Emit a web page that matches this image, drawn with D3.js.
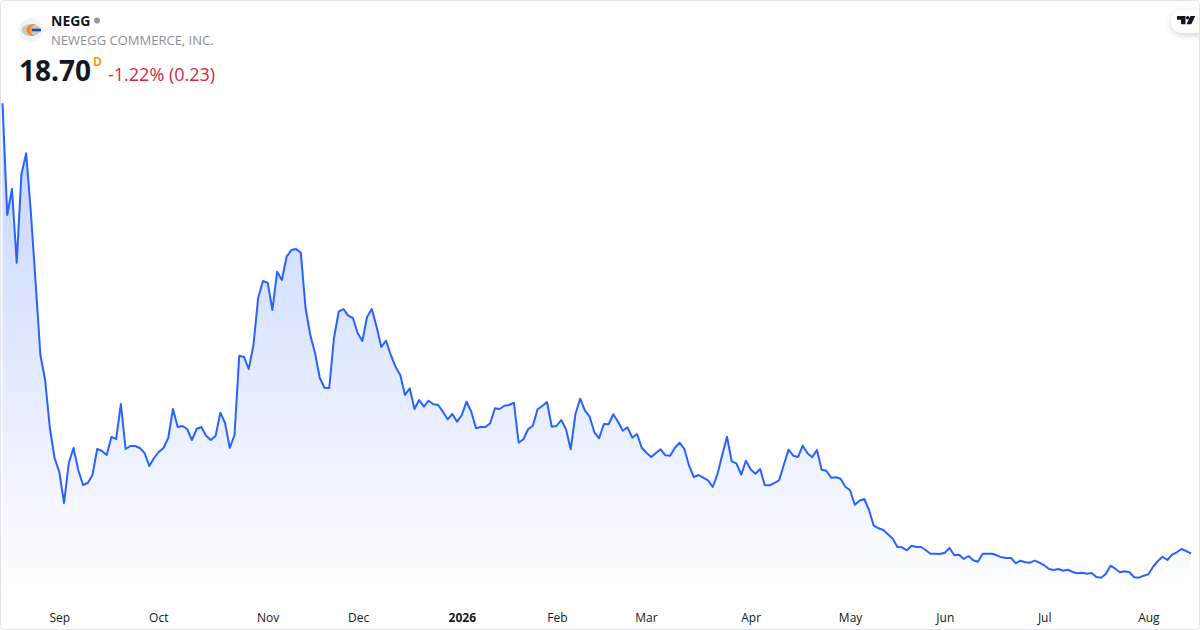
<!DOCTYPE html>
<html lang="en">
<head>
<meta charset="UTF-8">
<title>NEGG</title>
<script src="https://d3js.org/d3.v7.min.js"></script>
<style>
  html, body { margin: 0; padding: 0; background: #fff; }
  svg { display: block; }
  text { font-family: "Open Sans", sans-serif; }
  .tick text { font-size: 12px; fill: #131722; }
</style>
</head>
<body>
<div id="chart"></div>
<script>
// daily closes
const closes = [
  63.72,52.55,55.15,47.78,56.65,58.72,52.75,45.75,38.55,36.05,31.25,28.25,26.85,23.75,27.75,29.25,27.05,25.55,25.75,26.55,
  29.15,28.95,28.55,30.35,30.15,33.65,29.15,29.45,29.45,29.25,28.75,27.45,28.25,28.85,29.25,30.25,33.15,31.35,31.45,31.15,
  30.05,31.15,31.35,30.48,30.05,30.45,32.78,31.75,29.25,30.55,38.48,38.35,37.15,39.55,44.28,45.95,45.78,43.05,46.88,46.05,
  48.38,49.05,49.15,48.78,43.25,40.55,38.75,36.28,35.28,35.25,40.25,42.88,43.15,42.48,42.25,40.75,39.95,42.38,43.15,41.38,
  39.35,39.98,38.55,37.38,36.55,34.55,35.22,33.15,34.05,33.38,33.98,33.62,33.55,32.88,32.12,32.65,31.88,32.55,33.88,32.88,
  31.22,31.35,31.35,31.72,33.22,33.15,33.48,33.55,33.78,29.78,30.12,31.12,31.48,33.12,33.45,33.85,31.38,31.45,32.05,31.12,
  29.12,32.65,34.18,32.98,32.38,30.82,30.22,31.65,31.62,32.62,31.88,30.98,31.32,30.28,30.65,29.28,28.78,28.35,28.75,29.12,
  28.52,28.48,29.28,29.78,29.15,27.48,26.35,26.55,26.28,26.02,25.35,26.65,28.55,30.38,27.92,27.72,26.58,27.98,27.12,26.68,
  27.15,25.52,25.52,25.75,26.02,27.55,29.08,28.48,28.35,29.48,28.72,28.32,29.05,27.08,26.98,26.28,26.32,26.18,25.38,25.02,
  23.58,23.98,24.15,23.05,21.48,21.22,21.05,20.62,20.18,19.35,19.32,19.02,19.48,19.35,19.35,19.02,18.68,18.68,18.65,18.78,
  19.25,18.52,18.58,18.15,18.45,18.02,17.88,18.68,18.68,18.68,18.52,18.32,18.25,18.25,17.72,17.98,17.82,17.78,17.98,17.78,
  17.52,17.15,17.05,17.15,16.98,17.08,16.85,16.72,16.78,16.68,16.75,16.35,16.28,16.65,17.48,17.18,16.82,16.92,16.82,16.32,
  16.28,16.48,16.62,17.38,17.95,18.38,18.05,18.58,18.82,19.15,18.93,18.70
];
// where the month labels fall, as positions in the list above
const tickLabels = ["Sep","Oct","Nov","Dec","2026","Feb","Mar","Apr","May","Jun","Jul","Aug"];
const tickBars = [12,32.9,56,75.1,97,117.1,135.9,158,179,199,220,242];

const width = 1200, height = 630;
const blue = "#2962ff";

const svg = d3.select("#chart").append("svg")
  .attr("width", width)
  .attr("height", height);

const x = d3.scaleLinear().domain([0, closes.length - 1]).range([2.5, 1191]);
const y = d3.scaleLinear().domain([14.05, 63.75]).range([600, 103]);

const defs = svg.append("defs");
const grad = defs.append("linearGradient")
  .attr("id", "fade")
  .attr("gradientUnits", "userSpaceOnUse")
  .attr("x1", 0).attr("x2", 0).attr("y1", 103).attr("y2", 600);
grad.append("stop").attr("offset", 0).attr("stop-color", blue).attr("stop-opacity", 0.28);
grad.append("stop").attr("offset", 1).attr("stop-color", blue).attr("stop-opacity", 0);

const shadow = defs.append("filter").attr("id", "pill").attr("x", "-50%").attr("y", "-50%").attr("width", "200%").attr("height", "200%");
shadow.append("feDropShadow").attr("dx", 0).attr("dy", 2).attr("stdDeviation", 3).attr("flood-color", "#000").attr("flood-opacity", 0.18);

// area + line
const area = d3.area().x((d, i) => x(i)).y0(y.range()[0]).y1(d => y(d));
const line = d3.line().x((d, i) => x(i)).y(d => y(d));

svg.append("path").datum(closes).attr("d", area).attr("fill", "url(#fade)");
svg.append("path").datum(closes).attr("d", line)
  .attr("fill", "none").attr("stroke", blue).attr("stroke-width", 2)
  .attr("stroke-linejoin", "round");

// x axis, labels only
const xAxis = d3.axisBottom(x)
  .tickValues(tickBars)
  .tickFormat((d, i) => tickLabels[i])
  .tickSize(0)
  .tickPadding(0);
const gx = svg.append("g").attr("transform", "translate(0,613)").call(xAxis);
gx.select(".domain").remove();
gx.selectAll(".tick text")
  .attr("dy", "0.71em")
  .style("font-weight", (d, i) => tickLabels[i] === "2026" ? 700 : 400);

// header
const head = svg.append("g");
head.append("circle").attr("cx", 31).attr("cy", 30).attr("r", 12).attr("fill", "#f0f3fa");
head.append("ellipse").attr("cx", 31).attr("cy", 30).attr("rx", 9.5).attr("ry", 6).attr("fill", "#c9c9c9");
head.append("path").attr("d", "M36 24 C30 23.5 26.5 26.5 26.5 30 C26.5 33.5 30 36.5 35 36 C32 35 30.5 33 30.5 30.5 C30.5 27.5 33 25 36 24 Z").attr("fill", "#f28c1c");
head.append("rect").attr("x", 31.7).attr("y", 28.7).attr("width", 9.3).attr("height", 2.6).attr("fill", "#1f4e8c");
head.append("text").attr("x", 51).attr("y", 26).attr("font-size", 14).attr("font-weight", 700).attr("fill", "#131722").text("NEGG");
head.append("circle").attr("cx", 97).attr("cy", 20.5).attr("r", 3).attr("fill", "#9598a1");
head.append("text").attr("x", 51).attr("y", 45).attr("font-size", 13).attr("fill", "#8c8f98").text("NEWEGG COMMERCE, INC.");
head.append("text").attr("x", 19).attr("y", 81).attr("font-size", 28).attr("font-weight", 700).attr("fill", "#131722").text("18.70");
head.append("text").attr("x", 93).attr("y", 66).attr("font-size", 12).attr("font-weight", 700).attr("fill", "#ff9800").text("D");
head.append("text").attr("x", 108).attr("y", 81).attr("font-size", 18).attr("fill", "#d5273f").text("-1.22% (0.23)");

// tradingview badge
const badge = svg.append("g");
badge.append("rect").attr("x", 1171).attr("y", 10).attr("width", 50).attr("height", 23).attr("rx", 11.5)
  .attr("fill", "#fff").attr("filter", "url(#pill)");
badge.append("path").attr("d", "M1177 16 H1185.5 V24.3 H1181 V19.7 H1177 Z").attr("fill", "#131722");
badge.append("circle").attr("cx", 1187.6).attr("cy", 17.8).attr("r", 1.7).attr("fill", "#131722");
badge.append("path").attr("d", "M1190.3 16 H1195.3 L1191.3 24.3 H1186.5 Z").attr("fill", "#131722");

// card outline
svg.append("rect").attr("x", 0.5).attr("y", 0.5).attr("width", width - 1).attr("height", height - 1)
  .attr("rx", 4).attr("fill", "none").attr("stroke", "#e0e3eb");
</script>
</body>
</html>
